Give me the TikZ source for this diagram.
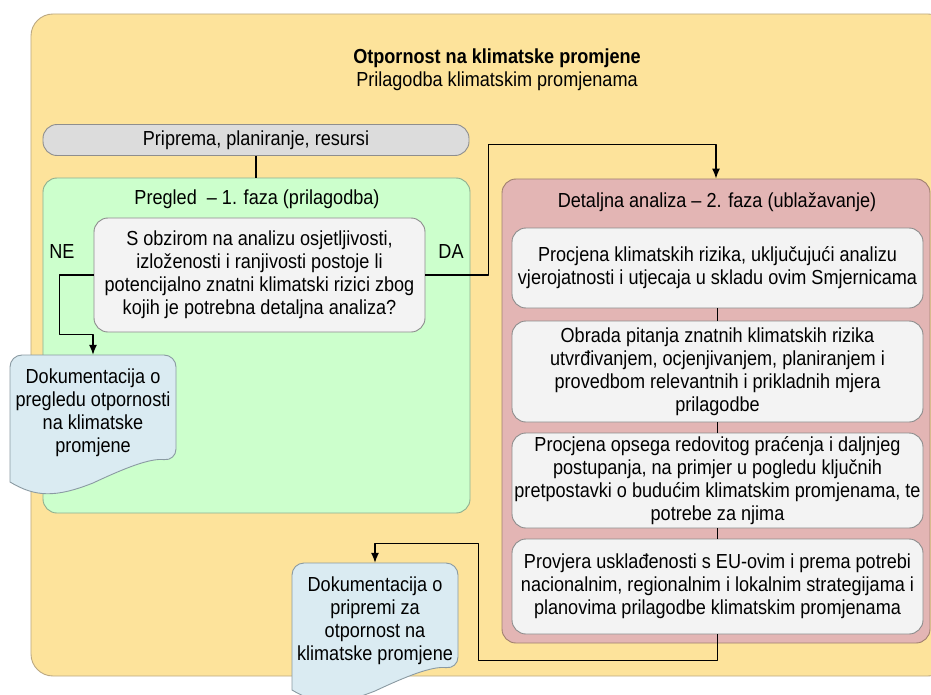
\documentclass[tikz,border=0pt]{standalone}
\usepackage{fontspec}
\setmainfont{Liberation Sans}[FakeStretch=0.89]
\usetikzlibrary{calc,arrows.meta}
\definecolor{framefill}{HTML}{FDE39B}
\definecolor{frameline}{HTML}{BBA882}
\definecolor{prepfill}{HTML}{DCDCDC}
\definecolor{prepline}{HTML}{8E8E8E}
\definecolor{greenfill}{HTML}{CCFFCC}
\definecolor{greenline}{HTML}{8FAF8F}
\definecolor{redfill}{HTML}{E3B5B4}
\definecolor{redline}{HTML}{A0806E}
\definecolor{stepfill}{HTML}{F3F3F3}
\definecolor{stepline}{HTML}{8C8C8C}
\definecolor{docfill}{HTML}{DAEBF2}
\definecolor{docline}{HTML}{8A9AA2}
\begin{document}
\begin{tikzpicture}[>={Latex[length=10bp,width=8bp]},line join=bevel,x=1bp,y=-1bp,
  every node/.style={font=\fontsize{20.4}{23}\selectfont,align=center,inner sep=1bp},
  panel/.style={draw=#1line,fill=#1fill,line width=0.9bp},
  stepbox/.style={draw=stepline,fill=stepfill,rounded corners=14bp,line width=0.9bp,minimum width=411bp},
  docbox/.style={minimum width=166bp,minimum height=116bp},
  docshape/.style={draw=docline,fill=docfill,line width=0.9bp},
  flow/.style={draw=black,line width=1.3bp}]
\clip (0,0) rectangle (931,695);
%%
  % Node: frame
  \node[panel=frame,rounded corners=22bp,minimum width=919bp,minimum height=662bp] (frame) at (490.5,345) {};
  \node (title) at (497,69.5) {\textbf{Otpornost na klimatske promjene}\\Prilagodba klimatskim promjenama};
  % Node: prep
  \node[panel=prep,rounded corners=14bp,minimum width=426bp,minimum height=31bp] (prep) at (256,140) {Priprema, planiranje, resursi};
  % Node: phase1
  \node[panel=green,rounded corners=14bp,minimum width=427bp,minimum height=335bp] (phase1) at (256.5,345.5) {};
  \node (phase1title) at (257,199) {Pregled \ – 1. faza (prilagodba)};
  % Node: question
  \node[stepbox,minimum width=331bp,minimum height=114bp] (question) at (259.5,275)
    {S obzirom na analizu osjetljivosti,\\izloženosti i ranjivosti postoje li\\potencijalno znatni klimatski rizici zbog\\kojih je potrebna detaljna analiza?};
  \node (no) at (62,252) {NE};
  \node (yes) at (451,252) {DA};
  % Node: phase2
  \node[panel=red,rounded corners=14bp,minimum width=428bp,minimum height=464bp] (phase2) at (716,411) {};
  \node (phase2title) at (717,202) {Detaljna analiza – 2. faza (ublažavanje)};
  % Node: stepA
  \node[stepbox,minimum height=80bp] (stepA) at (717.5,268)
    {Procjena klimatskih rizika, uključujući analizu\\vjerojatnosti i utjecaja u skladu ovim Smjernicama};
  % Node: stepB
  \node[stepbox,minimum height=101bp] (stepB) at (717.5,371.5)
    {Obrada pitanja znatnih klimatskih rizika\\utvrđivanjem, ocjenjivanjem, planiranjem i\\provedbom relevantnih i prikladnih mjera\\prilagodbe};
  % Node: stepC
  \node[stepbox,minimum height=95bp] (stepC) at (717.5,480.5)
    {Procjena opsega redovitog praćenja i daljnjeg\\postupanja, na primjer u pogledu ključnih\\pretpostavki o budućim klimatskim promjenama, te\\potrebe za njima};
  % Node: stepD
  \node[stepbox,minimum height=95bp] (stepD) at (717.5,586.5)
    {Provjera usklađenosti s EU-ovim i prema potrebi\\nacionalnim, regionalnim i lokalnim strategijama i\\planovima prilagodbe klimatskim promjenama};
  % Node: doc1
\begin{scope}[shift={(10,355)}]
  \draw[docshape] (0,127) [rounded corners=12bp] -- (0,0) -- (166,0) -- (166,106) [sharp corners]
    .. controls (140,103) and (115,113) .. (83,128) .. controls (45,143) and (25,142) .. (0,127) -- cycle;
  \node[docbox] (doc1) at (83,58) {Dokumentacija o\\pregledu otpornosti\\na klimatske\\promjene};
\end{scope}
  % Node: doc2
\begin{scope}[shift={(292,563)}]
  \draw[docshape] (0,127) [rounded corners=12bp] -- (0,0) -- (166,0) -- (166,106) [sharp corners]
    .. controls (140,103) and (115,113) .. (83,128) .. controls (45,143) and (25,142) .. (0,127) -- cycle;
  \node[docbox] (doc2) at (83,58) {Dokumentacija o\\pripremi za\\otpornost na\\klimatske promjene};
\end{scope}
%
  % Edge: prep -> phase1
  \draw[flow] (prep.south) -- (prep.south |- phase1.north);
  % Edge: question -> doc1
  \draw[flow,->] (question.west) -- ++(-34,0) |- ($(doc1.north)+(0,-20)$) -- (doc1.north);
  % Edge: question -> phase2
  \draw[flow,->] (question.east) -- ++(63,0) |- ($(phase2.north)+(0,-34)$) -- (phase2.north);
  % Edge: stepA -> stepB -> stepC -> stepD
  \draw[flow] (stepA) -- (stepB);
  \draw[flow] (stepB) -- (stepC);
  \draw[flow] (stepC) -- (stepD);
  % Edge: stepD -> doc2
  \draw[flow,->] (stepD.south) -- ++(0,26) -| ++(-239,-117) -| (doc2.north);
%
\end{tikzpicture}
\end{document}
